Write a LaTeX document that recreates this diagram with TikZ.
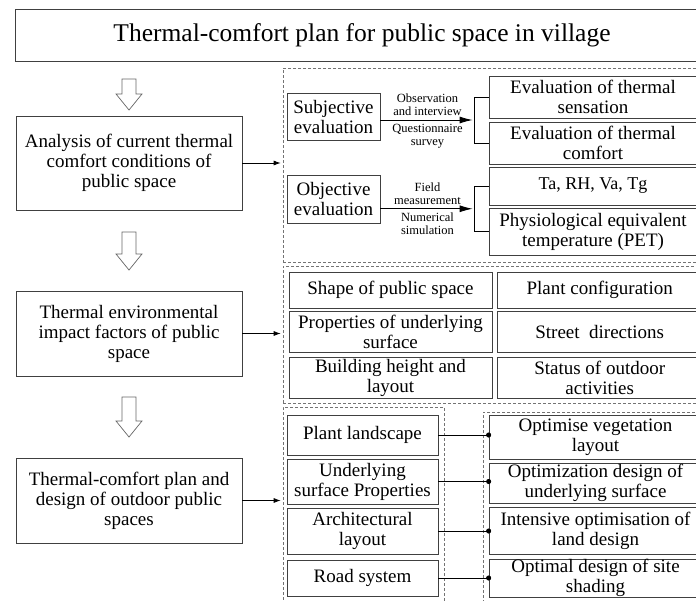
\documentclass[tikz,border=0pt]{standalone}
\usepackage{fontspec}
\setmainfont{Liberation Serif}
\usetikzlibrary{arrows.meta,positioning,calc}

\begin{document}
\begin{tikzpicture}[
  x=1pt, y=-1pt,
  node distance=5pt,
  flowbox/.style={draw=black!75, line width=0.7pt, align=center, inner xsep=2pt, inner ysep=0pt, font=\fontsize{19}{20}\selectfont},
  titlebox/.style={flowbox, font=\fontsize{25.5}{28}\selectfont},
  panel/.style={draw=black!55, dash pattern=on 3pt off 2pt, line width=0.6pt},
  note/.style={font=\fontsize{12.5}{12.5}\selectfont, align=center, inner sep=1pt},
  arrow/.style={-{Latex[length=7pt,width=5pt]}, line width=0.8pt, shorten >=2pt},
  bigarrow/.style={-{Latex[length=13pt,width=7pt]}, line width=0.9pt, shorten >=2pt},
  hollow/.style={draw=black!60, line width=0.7pt, fill=white},
  link/.style={-{Circle[length=5pt]}, line width=0.8pt, shorten >=-2.5pt}
]
\useasboundingbox (0,0) rectangle (696,600);

\node[titlebox, minimum width=694pt, minimum height=52pt] (title) at (362,35) {Thermal-comfort plan for public space in village};

% main steps
\node[flowbox, minimum width=226pt, minimum height=94pt] (ana) at (129,163) {Analysis of current thermal\\comfort conditions of\\public space};
\node[flowbox, minimum width=226pt, minimum height=85pt] (fac) at (129,333.5) {Thermal environmental\\impact factors of public\\space};
\node[flowbox, minimum width=226pt, minimum height=85pt] (plan) at (129,500.5) {Thermal-comfort plan and\\design of outdoor public\\spaces};

\foreach \top/\tip in {79/110, 232/270, 397/437}
  \draw[hollow] (122,\top) -- (136,\top) -- (136,{\tip-16}) -- (142,{\tip-16}) -- (129,\tip) -- (116,{\tip-16}) -- (122,{\tip-16}) -- cycle;

% dashed panels
\node[panel, minimum width=422pt, minimum height=194pt] (p1) at (494,165) {};
\node[panel, minimum width=422pt, minimum height=137pt] (p2) at (494,334.5) {};
\node[panel, minimum width=161pt, minimum height=203pt] (p3a) at (363.5,508.5) {};
\node[panel, minimum width=222pt, minimum height=198pt] (p3b) at (594,511) {};

\draw[arrow] (ana.east) -- (ana.east -| p1.west);
\draw[arrow] (fac.east) -- (fac.east -| p2.west);
\draw[arrow] (plan.east) -- (plan.east -| p3a.west);

% current conditions
\node[flowbox, minimum width=93pt, minimum height=47pt] (subj) at (333.5,116.5) {Subjective\\evaluation};
\node[flowbox, minimum width=93pt, minimum height=48pt] (obj) at (333.5,199) {Objective\\evaluation};
\node[flowbox, minimum width=208pt, minimum height=42pt] (sens) at (593,97) {Evaluation of thermal\\sensation};
\node[flowbox, minimum width=208pt, minimum height=42pt] (comf) at (593,143) {Evaluation of thermal\\comfort};
\node[flowbox, minimum width=208pt, minimum height=38pt, font=\fontsize{18}{20}\selectfont] (meas) at (593,186) {Ta, RH, Va, Tg};
\node[flowbox, minimum width=208pt, minimum height=47pt] (pet) at (593,231.5) {Physiological equivalent\\temperature (PET)};

\draw[line width=0.8pt] (sens.west) -- ++(-14,0) |- (comf.west);
\draw[line width=0.8pt] (meas.west) -- ++(-14,0) |- (pet.west);
\coordinate (b1) at ($(sens.west)!0.5!(comf.west)+(-14,0)$);
\coordinate (b2) at ($(meas.west)!0.5!(pet.west)+(-14,0)$);
\draw[bigarrow] (subj.east |- b1) -- (b1)
  node[note, midway, above=3pt] {Observation\\and interview}
  node[note, midway, below=3pt] {Questionnaire\\survey};
\draw[bigarrow] (obj.east |- b2) -- (b2)
  node[note, midway, above=3pt] {Field\\measurement}
  node[note, midway, below=3pt] {Numerical\\simulation};

% impact factors
\node[flowbox, minimum width=203pt, minimum height=36pt] (shape) at (390.5,290) {Shape of public space};
\node[flowbox, minimum width=203pt, minimum height=41pt] (prop) at (390.5,331.5) {Properties of underlying\\surface};
\node[flowbox, minimum width=203pt, minimum height=41pt] (bldg) at (390.5,377.5) {Building height and\\layout};
\node[flowbox, minimum width=204pt, minimum height=36pt, right=of shape] (plant) {Plant configuration};
\node[flowbox, minimum width=204pt, minimum height=41pt, right=of prop] (street) {Street\ \ directions};
\node[flowbox, minimum width=204pt, minimum height=41pt, right=of bldg] (status) {Status of outdoor\\activities};

% plan and design
\node[flowbox, minimum width=151pt, minimum height=40pt] (land) at (362.5,435) {Plant landscape};
\node[flowbox, minimum width=151pt, minimum height=45pt] (surf) at (362.5,481.5) {Underlying\\surface Properties};
\node[flowbox, minimum width=151pt, minimum height=46pt] (arch) at (362.5,531) {Architectural\\layout};
\node[flowbox, minimum width=151pt, minimum height=36pt] (road) at (362.5,578) {Road system};
\node[flowbox, minimum width=213pt, minimum height=44pt] (veg) at (595.5,437) {Optimise vegetation\\layout};
\node[flowbox, minimum width=213pt, minimum height=40pt] (under) at (595.5,483) {Optimization design of\\underlying surface};
\node[flowbox, minimum width=213pt, minimum height=47pt] (inten) at (595.5,530.5) {Intensive optimisation of\\land design};
\node[flowbox, minimum width=213pt, minimum height=38pt] (shade) at (595.5,578) {Optimal design of site\\shading};

\draw[link] (land.east) -- (land.east -| veg.west);
\draw[link] (surf.east) -- (surf.east -| under.west);
\draw[link] (arch.east) -- (arch.east -| inten.west);
\draw[link] (road.east) -- (road.east -| shade.west);
\end{tikzpicture}
\end{document}
